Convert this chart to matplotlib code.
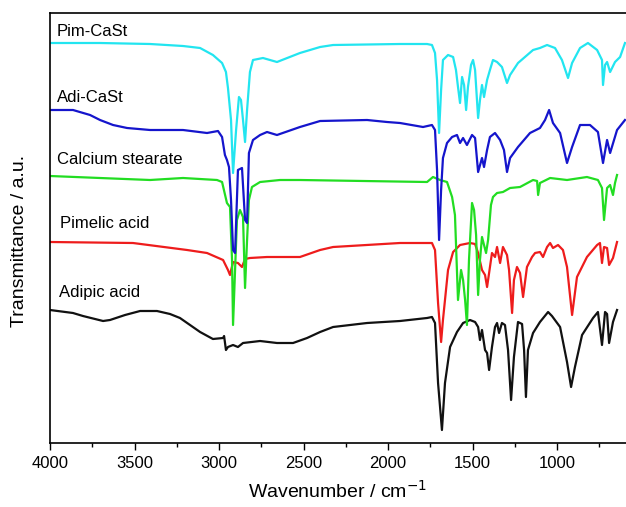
#FTIR spectra of the acids, calcium stearate and the two composites
import numpy as np
import matplotlib.pyplot as plt

plt.rcParams['font.family'] = ['Liberation Sans', 'DejaVu Sans']

# wavenumber (cm-1) / transmittance (a.u., curves offset)
pim_cast_wn = [4000, 3704, 3408, 3213, 3112, 3036, 2982, 2959, 2947, 2929, 2917, 2899, 2882, 2870, 2858,
               2846, 2834, 2817, 2799, 2740, 2657, 2521, 2402, 2325, 1929, 1769, 1740, 1722, 1710, 1698,
               1686, 1675, 1645, 1615, 1598, 1586, 1574, 1562, 1550, 1538, 1527, 1509, 1497, 1485, 1467,
               1456, 1444, 1432, 1414, 1397, 1379, 1355, 1326, 1296, 1278, 1231, 1142, 1101, 1059, 1012,
               971, 935, 911, 864, 817, 763, 734, 728, 716, 704, 686, 657, 627, 598]
pim_cast_t = [400, 400, 399, 397, 395, 388, 380, 371, 355, 323, 270, 313, 346, 343, 323,
              301, 333, 371, 383, 385, 381, 390, 396, 398, 399, 399, 398, 390, 363, 310,
              353, 383, 388, 386, 373, 356, 340, 366, 358, 333, 356, 378, 383, 373, 325,
              343, 358, 346, 363, 373, 383, 381, 376, 360, 368, 380, 393, 395, 398, 395,
              383, 365, 380, 395, 400, 393, 383, 358, 378, 381, 371, 381, 386, 400]

adi_cast_wn = [4000, 3864, 3763, 3704, 3627, 3544, 3408, 3213, 3071, 3006, 2982, 2965, 2953, 2941, 2929,
               2917, 2905, 2888, 2864, 2846, 2834, 2823, 2799, 2757, 2716, 2657, 2521, 2402, 2124, 2006,
               1929, 1793, 1740, 1722, 1710, 1698, 1686, 1675, 1651, 1621, 1592, 1574, 1556, 1533, 1503,
               1485, 1467, 1444, 1432, 1414, 1397, 1367, 1337, 1314, 1296, 1278, 1231, 1160, 1101, 1071,
               1047, 1024, 982, 941, 911, 864, 805, 758, 728, 704, 686, 645, 598]
adi_cast_t = [333, 333, 328, 323, 318, 315, 313, 313, 310, 312, 306, 288, 283, 276, 243,
              193, 190, 273, 275, 223, 220, 290, 303, 308, 311, 308, 316, 322, 323, 321,
              320, 316, 318, 313, 273, 203, 253, 285, 300, 306, 308, 300, 305, 298, 308,
              305, 271, 285, 276, 293, 306, 310, 303, 293, 271, 285, 296, 310, 315, 323,
              333, 320, 310, 280, 296, 318, 318, 311, 280, 303, 290, 313, 323]

cast_wn = [4000, 3704, 3408, 3213, 3012, 2982, 2953, 2935, 2923, 2917, 2905, 2894, 2876, 2858, 2846,
           2834, 2823, 2805, 2757, 2639, 2521, 1769, 1734, 1692, 1651, 1621, 1604, 1586, 1568, 1556,
           1544, 1533, 1521, 1503, 1491, 1479, 1467, 1456, 1444, 1432, 1420, 1408, 1391, 1379, 1355,
           1320, 1278, 1219, 1142, 1118, 1112, 1101, 1041, 941, 823, 758, 734, 722, 704, 686,
           669, 657, 645]
cast_t = [267, 265, 263, 265, 263, 261, 240, 236, 183, 118, 173, 223, 233, 226, 155,
          203, 243, 256, 261, 263, 263, 261, 266, 263, 261, 246, 228, 143, 173, 163,
          143, 118, 183, 240, 233, 208, 148, 183, 206, 198, 190, 203, 238, 246, 250,
          251, 255, 256, 263, 262, 248, 260, 265, 263, 266, 263, 255, 223, 255, 258,
          248, 260, 268]

pim_wn = [4000, 3509, 3189, 3071, 2976, 2947, 2935, 2917, 2888, 2864, 2846, 2817, 2716, 2521, 2402,
          2325, 1929, 1740, 1722, 1704, 1686, 1675, 1645, 1615, 1574, 1515, 1485, 1467, 1444, 1426,
          1414, 1402, 1385, 1367, 1355, 1337, 1320, 1296, 1284, 1266, 1255, 1237, 1219, 1201, 1178,
          1148, 1130, 1101, 1083, 1059, 1041, 1024, 994, 965, 941, 911, 882, 823, 763, 746,
          734, 722, 704, 692, 669, 645]
pim_t = [201, 200, 193, 190, 183, 173, 168, 181, 180, 176, 184, 185, 186, 186, 193,
         196, 200, 200, 193, 140, 101, 123, 173, 191, 198, 200, 199, 190, 173, 168,
         156, 170, 190, 186, 196, 180, 196, 188, 173, 130, 163, 176, 170, 146, 176,
         186, 190, 191, 186, 196, 200, 195, 198, 193, 176, 128, 166, 186, 198, 200,
         180, 196, 195, 178, 185, 201]

adi_wn = [4000, 3864, 3805, 3686, 3645, 3556, 3467, 3367, 3290, 3231, 3112, 3036, 2976, 2970, 2959,
          2947, 2917, 2888, 2858, 2757, 2657, 2562, 2479, 2402, 2325, 2124, 1929, 1769, 1740, 1722,
          1704, 1681, 1663, 1633, 1592, 1556, 1515, 1485, 1467, 1456, 1444, 1426, 1414, 1402, 1385,
          1367, 1355, 1343, 1326, 1308, 1290, 1272, 1255, 1231, 1207, 1195, 1184, 1172, 1142, 1101,
          1053, 1030, 982, 941, 917, 894, 852, 787, 758, 734, 716, 704, 692, 669, 645]
adi_t = [133, 130, 127, 122, 123, 128, 132, 132, 129, 125, 111, 104, 105, 107, 93,
         96, 98, 96, 100, 102, 100, 100, 105, 111, 116, 120, 122, 125, 126, 120,
         60, 13, 60, 96, 111, 120, 123, 121, 116, 103, 113, 93, 90, 73, 96,
         116, 120, 110, 120, 118, 93, 43, 86, 121, 119, 93, 46, 93, 110, 121,
         131, 127, 116, 81, 56, 76, 108, 125, 131, 98, 131, 129, 100, 121, 133]

names = ['Adipic acid', 'Pimelic acid', 'Calcium stearate', 'Adi-CaSt', 'Pim-CaSt']
colors = ['#111111', '#EE1C1C', '#22DD22', '#1515CC', '#22E5F0']
label_wn = [3947, 3941, 3959, 3959, 3959]
label_t = [150, 220, 283, 346, 412]

spectra = [(adi_wn, adi_t), (pim_wn, pim_t), (cast_wn, cast_t),
           (adi_cast_wn, adi_cast_t), (pim_cast_wn, pim_cast_t)]

fig = plt.figure(figsize=(6.26, 5.07), dpi=100)
ax = fig.add_axes([50/626, 64/507, 576/626, 430/507])

for (wn, t), c in zip(spectra, colors):
    ax.plot(wn, t, color=c, lw=1.6, solid_joinstyle='round')

for name, x, y in zip(names, label_wn, label_t):
    ax.text(x, y, name, fontsize=12, ha='left', va='center')

ax.set_xlim(4000, 592)
ax.set_ylim(0, 430)
ax.set_xticks(np.arange(4000, 999, -500))
ax.set_xticks(np.arange(3750, 600, -500), minor=True)
ax.tick_params(axis='x', which='major', direction='out', length=5, width=1, labelsize=12, pad=4)
ax.tick_params(axis='x', which='minor', direction='out', length=3, width=1)
ax.set_yticks([])
ax.spines['right'].set_visible(False)
for s in ['left', 'top', 'bottom']:
    ax.spines[s].set_linewidth(1.2)

ax.set_xlabel('Wavenumber / cm$^{-1}$', fontsize=14, labelpad=7)
ax.set_ylabel('Transmittance / a.u.', fontsize=14)
ax.yaxis.set_label_coords(-0.038, 0.47)

fig.savefig('out.png', dpi=100)
